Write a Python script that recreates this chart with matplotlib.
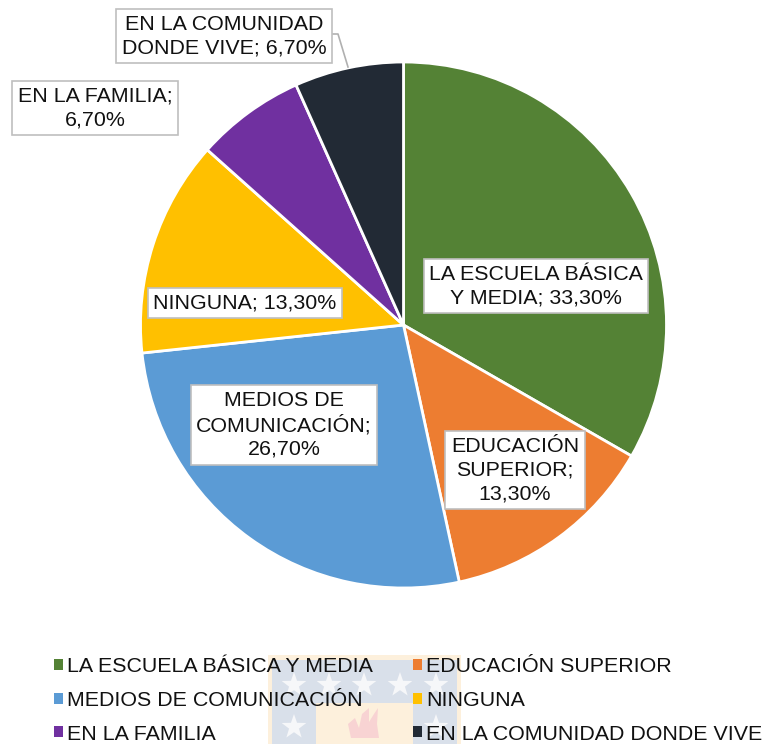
import matplotlib
matplotlib.use("Agg")
import matplotlib.pyplot as plt
from math import cos, sin, pi
from matplotlib.patches import Patch, Rectangle, Polygon, PathPatch
from matplotlib.path import Path

plt.rcParams['font.family'] = ['Liberation Sans', 'DejaVu Sans']

# --- Data ---
categories = ["LA ESCUELA BÁSICA Y MEDIA", "EDUCACIÓN SUPERIOR", "MEDIOS DE COMUNICACIÓN",
              "NINGUNA", "EN LA FAMILIA", "EN LA COMUNIDAD DONDE VIVE"]
values = [33.3, 13.3, 26.7, 13.3, 6.7, 6.7]
colors = ["#548235", "#ed7d31", "#5b9bd5", "#ffc000", "#7030a0", "#222a35"]
label_texts = ["LA ESCUELA BÁSICA\nY MEDIA; 33,30%", "EDUCACIÓN\nSUPERIOR;\n13,30%",
               "MEDIOS DE\nCOMUNICACIÓN;\n26,70%", "NINGUNA; 13,30%",
               "EN LA FAMILIA;\n6,70%", "EN LA COMUNIDAD\nDONDE VIVE; 6,70%"]
label_x = [536, 515, 284, 245, 95, 224]
label_y = [286, 470, 425, 303, 108, 36]

fig = plt.figure(figsize=(7.64, 7.44), dpi=100)
ax = fig.add_axes([0, 0, 1, 1])


def flip(y):
    return 744 - y


# --- Watermark behind the legend ---
def star(cx, cy, r=13):
    pts = []
    for i in range(10):
        rr = r if i % 2 == 0 else r * 0.4
        a = pi / 2 + i * pi / 5
        pts.append((cx + rr * cos(a), flip(cy) + rr * sin(a)))
    return Polygon(pts, closed=True, fc="#f6f7f9", ec="none", zorder=1)


ax.add_patch(Rectangle((268, 0), 193, flip(655), fc="#fdf0dc", ec="none", zorder=0))
ax.add_patch(Rectangle((272, 0), 185, flip(660), fc="#d9e0ea", ec="none", zorder=0.5))
ax.add_patch(Rectangle((316, 0), 97, flip(703), fc="#fdf0dc", ec="none", zorder=0.6))
for sx, sy in [(294, 685), (329, 685), (364, 685), (400, 685), (436, 685), (294, 727), (436, 727)]:
    ax.add_patch(star(sx, sy))
flame = Path([(351, flip(738)), (348, flip(724)), (355, flip(718)), (359, flip(728)),
              (362, flip(714)), (369, flip(708)), (369, flip(722)), (374, flip(714)),
              (378, flip(708)), (377, flip(724)), (379, flip(738)), (351, flip(738))])
ax.add_patch(PathPatch(flame, fc="#f8d3d3", ec="none", zorder=1))

# --- Pie ---
wedges, _ = ax.pie(values, colors=colors, startangle=90, counterclock=False,
                   center=(403.5, flip(325)), radius=263, frame=True,
                   wedgeprops=dict(edgecolor="white", linewidth=2.0, zorder=2))
ax.set_xlim(0, 764)
ax.set_ylim(0, 744)
ax.axis("off")

# Leader line for the last label
ax.plot([331, 338, 348], [flip(34), flip(34), flip(67)], color="#b0b0b0", lw=1.2, zorder=3)

# --- Data labels ---
for txt, lx, ly in zip(label_texts, label_x, label_y):
    ax.text(lx, flip(ly), txt, ha="center", va="center", fontsize=15.4, color="#111111",
            linespacing=1.3, zorder=4,
            bbox=dict(boxstyle="square,pad=0.26", fc="white", ec="#bfbfbf", lw=1.2))

# --- Legend (matplotlib fills columns first, the reference reads row by row) ---
order = [0, 2, 4, 1, 3, 5]
handles = [Patch(fc=colors[i], ec="none") for i in order]
names = [categories[i] for i in order]
leg = ax.legend(handles, names, ncols=2, frameon=False, fontsize=15.4,
                loc="upper left", bbox_to_anchor=(54 / 764, (744 - 657) / 744),
                borderaxespad=0, borderpad=0, handlelength=0.42, handleheight=0.42,
                handletextpad=0.19, columnspacing=1.87, labelspacing=0.69,
                labelcolor="#111111")
leg.set_zorder(5)

fig.savefig("out.png", dpi=100)
